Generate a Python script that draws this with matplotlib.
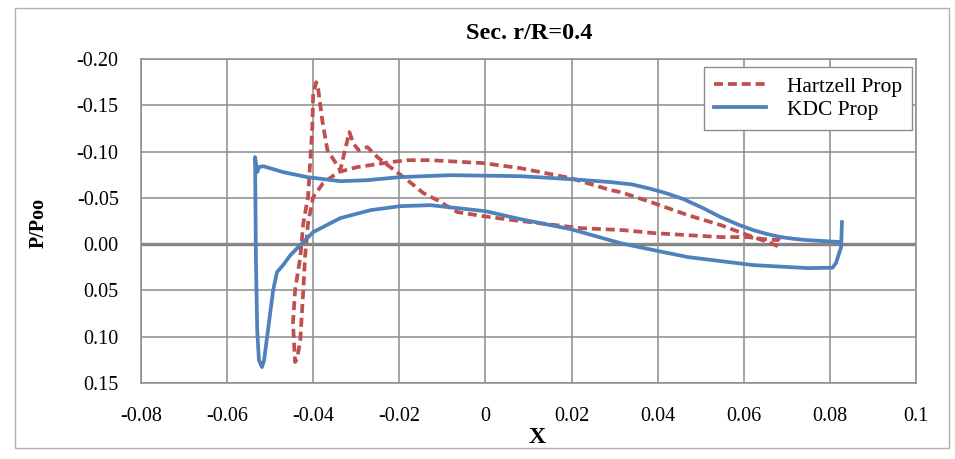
import matplotlib.pyplot as plt
from matplotlib.patches import Rectangle
from matplotlib.ticker import FuncFormatter, MultipleLocator

plt.rcParams['font.family'] = ['Liberation Serif', 'DejaVu Serif']
plt.rcParams['axes.unicode_minus'] = False

# KDC Prop, traced as one loop starting at the trailing edge
kdc_x = [0.0828, 0.0826, 0.0814, 0.0806, 0.0749, 0.0623, 0.0470, 0.0391, 0.0314,
         0.0198, 0.0081, 0.0000, -0.0128, -0.0198, -0.0267, -0.0337, -0.0400,
         -0.0430, -0.0453, -0.0470, -0.0484, -0.0493, -0.0505, -0.0514, -0.0519,
         -0.0526, -0.0530, -0.0533, -0.0535, -0.0530, -0.0526, -0.0516, -0.0470,
         -0.0414, -0.0337, -0.0274, -0.0198, -0.0081, 0.0081, 0.0198, 0.0291,
         0.0340, 0.0377, 0.0420, 0.0460, 0.0505, 0.0547, 0.0590, 0.0623, 0.0655,
         0.0686, 0.0720, 0.0749, 0.0826]
kdc_y = [-0.0238, 0.0032, 0.0205, 0.0255, 0.0259, 0.0227, 0.0140, 0.0065, -0.0010,
         -0.0162, -0.0270, -0.0356, -0.0421, -0.0410, -0.0367, -0.0281, -0.0130,
         0.0011, 0.0119, 0.0227, 0.0302, 0.0497, 0.0929, 0.1253, 0.1328,
         0.1253, 0.0929, 0.0173, -0.0940, -0.0778, -0.0832, -0.0842, -0.0778,
         -0.0724, -0.0680, -0.0691, -0.0724, -0.0745, -0.0734, -0.0702, -0.0670,
         -0.0645, -0.0605, -0.0550, -0.0486, -0.0390, -0.0290, -0.0205, -0.0150, -0.0108,
         -0.0076, -0.0055, -0.0043, -0.0022]

# Hartzell Prop
hz_x = [0.0679, 0.0656, 0.0609, 0.0547, 0.0470, 0.0391, 0.0314, 0.0291, 0.0198,
        0.0081, -0.0005, -0.0128, -0.0181, -0.0221, -0.0267, -0.0298, -0.0342,
        -0.0377, -0.0400, -0.0412, -0.0419, -0.0423, -0.0430, -0.0437, -0.0442,
        -0.0447, -0.0442, -0.0430, -0.0423, -0.0412, -0.0402, -0.0400, -0.0393,
        -0.0388, -0.0379, -0.0367, -0.0349, -0.0337, -0.0330, -0.0316, -0.0307,
        -0.0295, -0.0274, -0.0251, -0.0221, -0.0181, -0.0144, -0.0112, -0.0065,
        -0.0005, 0.0065, 0.0144, 0.0221, 0.0321, 0.0391, 0.0470, 0.0547, 0.0609,
        0.0647, 0.0679, 0.0686]
hz_y = [0.0022, -0.0022, -0.0097, -0.0205, -0.0313, -0.0443, -0.0562, -0.0583, -0.0713,
        -0.0821, -0.0875, -0.0907, -0.0907, -0.0886, -0.0853, -0.0832, -0.0778,
        -0.0659, -0.0508, -0.0227, 0.0140, 0.0497, 0.1037, 0.1231, 0.1274,
        0.0853, 0.0497, 0.0140, -0.0227, -0.0508, -0.1264, -0.1631, -0.1749,
        -0.1663, -0.1339, -0.1015, -0.0886, -0.0799, -0.0940, -0.1210, -0.1091,
        -0.1015, -0.1048, -0.0940, -0.0832, -0.0691, -0.0551, -0.0475, -0.0346,
        -0.0302, -0.0259, -0.0216, -0.0173, -0.0151, -0.0119, -0.0097, -0.0076, -0.0076,
        -0.0054, -0.0043, -0.0086]

fig = plt.figure(figsize=(9.55, 4.59), dpi=100)
ax = fig.add_axes([0.1476, 0.1656, 0.8116, 0.7059])

grid_col = '#8c8c8c'
ax.set_xlim(-0.08, 0.1)
ax.set_ylim(0.15, -0.20)
ax.xaxis.set_major_locator(MultipleLocator(0.02))
ax.yaxis.set_major_locator(MultipleLocator(0.05))
ax.grid(True, color=grid_col, linewidth=1.1)
ax.axhline(0, color='#7f7f7f', linewidth=2.4, zorder=1)
for s in ax.spines.values():
    s.set_color(grid_col)
    s.set_linewidth(1.1)
ax.tick_params(length=0, labelsize=14.5)
ax.tick_params(axis='y', pad=16)
ax.tick_params(axis='x', pad=17)
ax.yaxis.set_major_formatter(FuncFormatter(lambda v, p: '%.2f' % v))
ax.xaxis.set_major_formatter(FuncFormatter(lambda v, p: '0' if abs(v) < 1e-9 else ('%g' % round(v, 2))))

ax.plot(hz_x, hz_y, color='#c0504d', linewidth=2.7, dashes=(2.4, 1.3),
        label='Hartzell Prop', zorder=3)
ax.plot(kdc_x, kdc_y, color='#4f81bd', linewidth=2.7, label='KDC Prop', zorder=3)

leg = ax.legend(loc='upper right', bbox_to_anchor=(0.995, 0.976), fontsize=15.5,
                fancybox=False, framealpha=1, edgecolor='#8c8c8c',
                handlelength=2.4, handletextpad=1.0, borderpad=0.45,
                labelspacing=0.15, borderaxespad=0)
leg.get_frame().set_linewidth(1.0)

fig.text(0.554, 0.926, 'Sec. r/R=0.4', ha='center', va='center',
         fontsize=17.5, fontweight='bold')
fig.text(0.562, 0.047, 'X', ha='center', va='center', fontsize=17, fontweight='bold')
fig.text(0.040, 0.515, 'P/Poo', ha='center', va='center', rotation=90,
         fontsize=14.5, fontweight='bold')

fig.patches.append(Rectangle((0.016, 0.024), 0.978, 0.958, transform=fig.transFigure,
                             fill=False, edgecolor='#b0b0b0', linewidth=1.0))

fig.savefig('out.png', dpi=100)
